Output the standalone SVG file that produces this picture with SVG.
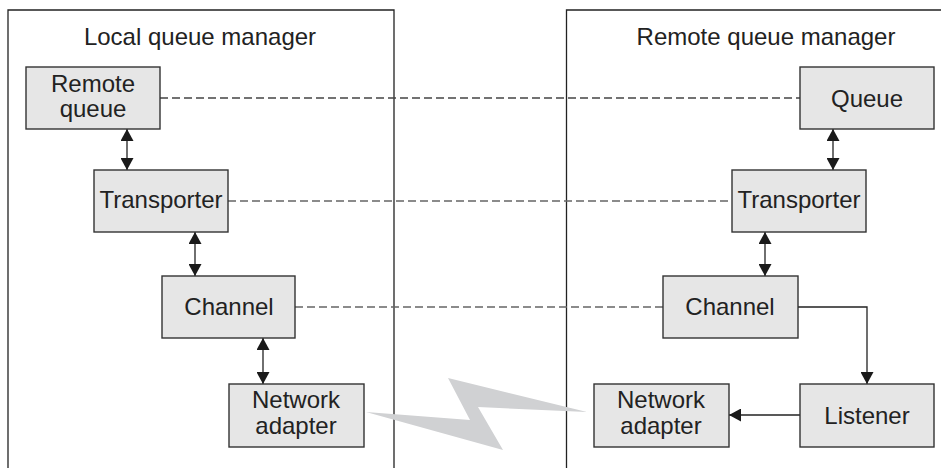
<svg xmlns="http://www.w3.org/2000/svg" width="941" height="468" viewBox="0 0 941 468">
<defs>
<marker id="ah" viewBox="0 0 12 13" refX="12" refY="6.5" markerWidth="12" markerHeight="13" markerUnits="userSpaceOnUse" orient="auto-start-reverse">
<path d="M0,0 L12,6.5 L0,13 Z" fill="#1a1a1a"/>
</marker>
</defs>
<style>
.frame{fill:none;stroke:#222;stroke-width:1.3}
.box{fill:#e6e6e6;stroke:#333;stroke-width:1.4}
.t{font-family:"Liberation Sans",Arial,sans-serif;font-size:24px;fill:#222;text-anchor:middle}
.dash{fill:none;stroke:#444;stroke-width:1.4;stroke-dasharray:8 4}
.arr{fill:none;stroke:#222;stroke-width:1.3}
</style>
<rect width="941" height="468" fill="#fff"/>
<g id="local-frame">
<path class="frame" d="M8,468 V10 H394 V468"/>
<text class="t" x="200" y="45">Local queue manager</text>
</g>
<g id="remote-frame">
<path class="frame" d="M566.5,468 V10 H941"/>
<text class="t" x="766" y="45">Remote queue manager</text>
</g>
<polygon id="bolt" points="366,412 470,420 448,378 587,412 478,407 503,450" fill="#d0d1d3"/>
<g id="connectors">
<line class="dash" x1="160" y1="98" x2="800" y2="98"/>
<line class="dash" x1="228" y1="201" x2="732" y2="201" style="stroke:#666"/>
<line class="dash" x1="295" y1="307" x2="663" y2="307" style="stroke:#666"/>
<line class="arr" x1="127" y1="129" x2="127" y2="170" marker-start="url(#ah)" marker-end="url(#ah)"/>
<line class="arr" x1="195" y1="232" x2="195" y2="276" marker-start="url(#ah)" marker-end="url(#ah)"/>
<line class="arr" x1="263" y1="338" x2="263" y2="384" marker-start="url(#ah)" marker-end="url(#ah)"/>
<line class="arr" x1="833" y1="129" x2="833" y2="170" marker-start="url(#ah)" marker-end="url(#ah)"/>
<line class="arr" x1="765" y1="232" x2="765" y2="276" marker-start="url(#ah)" marker-end="url(#ah)"/>
<path class="arr" d="M798,307 H867 V384" marker-end="url(#ah)"/>
<line class="arr" x1="800" y1="415" x2="729" y2="415" marker-end="url(#ah)"/>
</g>
<g id="remote-queue">
<rect class="box" x="26" y="67" width="134" height="62"/>
<text class="t" x="93" y="92">Remote</text>
<text class="t" x="93" y="117">queue</text>
</g>
<g id="transporter-local">
<rect class="box" x="94" y="170" width="134" height="62"/>
<text class="t" x="161" y="208">Transporter</text>
</g>
<g id="channel-local">
<rect class="box" x="162" y="276" width="133" height="62"/>
<text class="t" x="229" y="315">Channel</text>
</g>
<g id="network-adapter-local">
<rect class="box" x="229" y="384" width="135" height="63"/>
<text class="t" x="296" y="408">Network</text>
<text class="t" x="296" y="434">adapter</text>
</g>
<g id="queue">
<rect class="box" x="800" y="67" width="134" height="62"/>
<text class="t" x="867" y="107">Queue</text>
</g>
<g id="transporter-remote">
<rect class="box" x="732" y="170" width="134" height="62"/>
<text class="t" x="799" y="208">Transporter</text>
</g>
<g id="channel-remote">
<rect class="box" x="663" y="276" width="135" height="62"/>
<text class="t" x="730" y="315">Channel</text>
</g>
<g id="network-adapter-remote">
<rect class="box" x="594" y="384" width="135" height="63"/>
<text class="t" x="661" y="408">Network</text>
<text class="t" x="661" y="434">adapter</text>
</g>
<g id="listener">
<rect class="box" x="800" y="384" width="134" height="63"/>
<text class="t" x="867" y="424">Listener</text>
</g>
</svg>
